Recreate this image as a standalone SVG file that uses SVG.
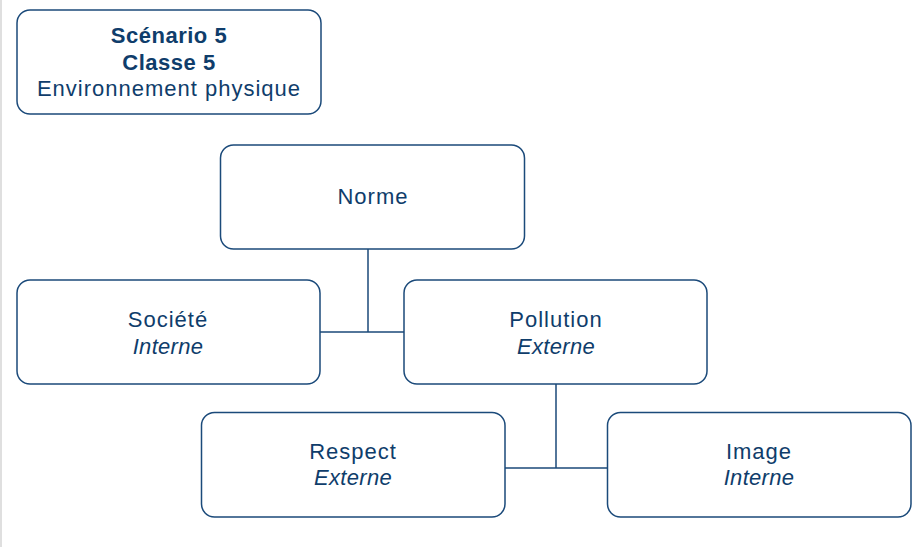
<svg xmlns="http://www.w3.org/2000/svg" width="913" height="547" viewBox="0 0 913 547">
  <style>
    .box { fill: #ffffff; stroke: #1b4a7a; stroke-width: 1.5; }
    .link { fill: none; stroke: #1b4a7a; stroke-width: 1.5; }
    text { font-family: "Liberation Sans", Arial, sans-serif; font-size: 22px; letter-spacing: 1px; fill: #0f3d6b; text-anchor: middle; }
    .b { font-weight: bold; letter-spacing: 0.5px; }
    .i { font-style: italic; letter-spacing: 0.3px; }
  </style>
  <rect x="0" y="0" width="913" height="547" fill="#ffffff"/>
  <line x1="1" y1="0" x2="1" y2="547" stroke="#d4d4d4" stroke-width="1.5"/>

  <g id="connectors">
    <path class="link" d="M368 249 V332 M320 332 H404"/>
    <path class="link" d="M556 384 V468 M505 468 H607"/>
  </g>

  <g id="title">
    <rect class="box" x="17" y="10" width="304" height="104" rx="13"/>
    <text class="b" x="169" y="43">Scénario 5</text>
    <text class="b" x="169" y="70">Classe 5</text>
    <text x="169" y="96">Environnement physique</text>
  </g>

  <g id="norme">
    <rect class="box" x="220.5" y="145" width="304" height="104" rx="13"/>
    <text x="373" y="204">Norme</text>
  </g>

  <g id="societe">
    <rect class="box" x="17" y="280" width="303" height="104" rx="13"/>
    <text x="168" y="327">Société</text>
    <text class="i" x="168" y="354">Interne</text>
  </g>

  <g id="pollution">
    <rect class="box" x="404" y="280" width="303" height="104" rx="13"/>
    <text x="556" y="327">Pollution</text>
    <text class="i" x="556" y="354">Externe</text>
  </g>

  <g id="respect">
    <rect class="box" x="201.5" y="412.5" width="303.5" height="104.5" rx="13"/>
    <text x="353" y="459">Respect</text>
    <text class="i" x="353" y="485">Externe</text>
  </g>

  <g id="image">
    <rect class="box" x="607.5" y="412.5" width="303.5" height="104.5" rx="13"/>
    <text x="759" y="459">Image</text>
    <text class="i" x="759" y="485">Interne</text>
  </g>
</svg>
